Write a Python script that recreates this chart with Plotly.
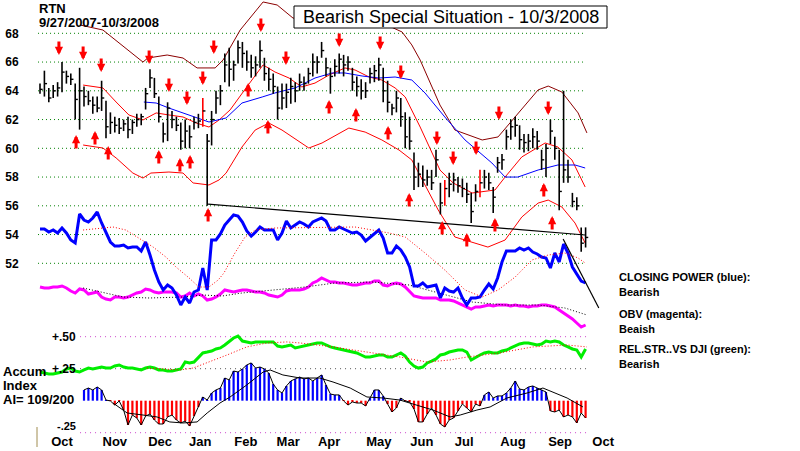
import plotly.graph_objects as go

FONT = "Liberation Sans, Arial, sans-serif"

# ---------------- data (bar index 0..124, ~2 trading days per bar) ----------------
high = [64.5,65.4,64.2,64.4,64.6,66.0,65.4,65.2,64.5,65.6,
        64.3,64.0,63.6,63.6,64.7,63.3,62.5,62.2,62.1,62.0,
        62.2,62.0,62.4,62.4,64.2,65.5,64.9,63.6,61.8,63.2,
        62.6,62.2,61.8,62.0,61.6,62.2,62.4,63.5,61.0,62.6,
        64.0,64.4,66.6,67.0,66.1,67.5,67.4,66.8,66.5,66.4,
        67.5,66.3,65.6,65.2,64.3,64.5,64.5,64.9,64.6,65.2,
        65.0,65.6,66.6,66.4,67.4,66.3,65.6,66.2,66.6,66.5,
        66.4,65.6,65.0,64.8,64.6,65.6,65.8,66.3,65.6,64.7,
        63.1,64.0,63.5,62.5,62.2,59.7,59.0,58.8,58.5,58.5,
        59.9,57.6,57.8,58.3,58.3,58.0,57.9,57.6,56.9,57.5,
        58.5,58.5,58.3,57.3,59.4,59.6,61.3,62.0,62.2,61.6,
        61.0,61.0,61.4,61.2,59.9,60.3,62.0,60.8,59.9,64.0,
        59.2,56.9,56.6,54.5,54.5]
low = [63.8,63.6,63.2,63.5,63.6,63.9,64.5,64.4,62.0,61.3,
       62.9,63.0,62.4,62.5,62.6,60.7,61.0,61.1,61.0,61.2,
       60.7,61.0,61.5,61.6,62.7,64.2,63.5,61.8,60.4,60.5,
       61.4,61.2,59.9,60.0,60.0,61.3,61.4,61.5,56.0,60.2,
       62.4,63.0,64.6,64.3,64.7,65.9,65.6,65.4,64.9,65.0,
       65.6,64.7,64.0,63.8,62.0,62.7,62.8,63.1,63.2,64.0,
       64.0,64.5,65.0,65.2,66.3,65.0,63.8,65.0,65.2,65.0,
       65.4,64.0,63.6,63.4,63.5,64.5,64.6,64.7,63.2,62.5,
       62.3,62.5,61.5,60.0,59.9,57.1,57.3,57.3,57.4,57.1,
       58.0,55.4,56.0,56.6,57.0,56.9,56.6,56.2,54.8,56.3,
       56.6,57.2,57.1,55.5,58.3,58.5,59.9,60.6,60.8,59.9,
       59.7,59.8,60.0,59.9,58.5,58.0,60.3,59.2,55.7,57.6,
       57.6,55.9,55.7,52.8,53.1]
close = [64.1,64.5,63.5,64.0,64.2,65.3,65.0,64.8,63.4,64.0,
         63.6,63.3,63.0,62.8,63.5,61.5,61.8,61.6,61.4,61.7,
         61.3,61.8,62.0,62.2,63.8,64.9,63.8,62.2,61.0,62.8,
         62.0,61.6,60.5,61.2,60.8,61.8,61.9,62.6,60.5,62.0,
         63.5,64.0,65.8,65.5,65.8,67.0,66.6,66.0,65.6,65.8,
         66.8,65.2,64.8,64.3,62.8,63.5,63.9,64.3,64.0,64.6,
         64.5,65.2,66.0,66.0,66.8,65.6,65.0,65.7,66.2,65.8,
         66.0,64.6,64.3,64.0,64.0,65.2,65.4,65.8,64.0,63.2,
         62.8,63.5,62.2,60.8,60.5,58.0,58.2,57.8,58.0,57.6,
         59.2,56.2,57.2,57.5,57.8,57.4,57.2,56.8,55.6,57.0,
         57.6,58.0,57.6,56.6,59.0,59.2,60.8,61.5,61.6,60.6,
         60.4,60.5,60.8,60.5,59.2,60.0,61.2,60.0,57.0,58.5,
         58.0,56.3,56.0,53.4,53.8]
red_bars = [37, 92, 100]

# Bollinger bands and 50-day MA (bar index, price)
upper_x = [9.1,14.3,23.4,24.5,28.9,32.5,35.7,39.8,41.6,45.5,50.7,53.9,57.5,63.6,70.5,77.3,82.3,84.5,86.4,90.9,94.3,100.5,104.1,108.0,113.2,115.5,118.6,122.3,124.3]
upper_y = [68.58,68.23,66.00,66.28,66.49,66.28,65.59,65.59,66.14,68.23,70.18,69.97,69.06,68.79,68.93,68.79,68.09,67.19,66.14,63.01,61.27,60.58,60.79,62.18,64.06,64.33,63.92,62.46,61.07]
mid_x = [9.8,14.3,17.3,20.2,23.4,24.8,26.4,29.3,32.5,35.5,38.4,40.7,43.2,47.0,50.7,53.4,56.6,59.5,62.5,65.7,69.3,71.6,74.8,77.7,80.7,83.0,86.4,90.9,93.9,98.2,103.4,105.7,109.5,114.8,117.7,120.9,123.9]
mid_y = [64.40,64.20,63.22,62.32,61.97,62.18,62.46,62.32,62.18,61.76,61.48,61.97,62.67,64.27,65.80,65.31,64.89,64.27,64.54,65.10,65.59,65.45,64.96,64.75,64.20,63.57,61.48,58.49,57.59,56.89,57.10,58.00,59.40,60.37,60.09,59.19,57.31]
lowb_x = [9.8,14.3,17.3,21.1,23.4,25.2,29.3,32.5,34.8,38.4,40.7,42.3,45.9,48.9,52.0,55.0,61.1,64.1,70.2,73.9,77.7,81.6,84.5,90.5,94.3,101.8,105.7,109.5,113.2,115.5,118.6,121.6,123.9]
lowb_y = [60.23,60.02,59.33,58.28,57.93,58.28,58.35,58.28,57.59,57.45,57.80,58.28,60.09,61.27,61.76,61.27,60.02,60.37,61.41,61.13,60.58,59.88,59.19,55.71,53.83,53.13,53.62,55.22,56.19,56.40,55.92,54.80,53.41]
ma_x = [23.6,26.4,29.3,32.5,35.5,38.4,42.3,45.9,50.5,53.4,58.0,62.5,66.4,69.3,73.2,77.0,80.7,84.5,87.5,92.0,96.6,102.7,105.7,108.6,113.2,117.7,121.6,123.9]
ma_y = [63.22,63.15,62.80,62.46,62.11,61.83,62.11,63.15,63.57,63.85,64.20,64.89,65.24,65.24,65.03,64.89,64.96,64.75,63.85,62.18,60.58,58.98,58.00,58.00,58.49,58.84,58.84,58.63]
trend_x = [38.2, 123.9]
trend_y = [56.12, 53.97]

# Closing power and OBV (arbitrary indicator units)
cp = [20.6,20.6,20.3,20.5,20.2,20.7,20.2,19.5,19.2,22.1,
      21.5,21.3,21.7,22.3,21.2,20.2,19.3,18.9,18.9,19.0,
      18.7,18.8,18.8,18.4,19.3,18.0,16.5,15.3,14.5,15.0,
      14.7,14.0,13.0,13.8,13.2,14.3,14.5,16.7,14.5,19.5,
      19.5,20.1,21.0,21.5,22.0,21.9,21.3,20.4,19.9,20.3,
      20.8,20.5,20.5,20.5,19.5,20.2,21.4,20.7,21.0,21.3,
      21.1,20.8,21.3,21.5,21.7,21.4,20.5,20.5,20.8,20.6,
      20.4,20.2,20.3,20.0,19.4,19.8,20.2,20.5,19.7,18.2,
      18.2,18.9,18.5,17.8,16.8,14.9,14.9,15.2,14.8,14.9,
      15.0,13.7,14.7,14.4,14.3,14.7,13.7,13.0,13.7,13.7,
      13.8,14.5,15.1,14.6,15.7,17.3,18.4,18.4,18.4,18.7,
      18.5,18.7,18.3,18.1,17.8,17.7,16.7,18.2,17.3,19.1,
      18.2,16.8,16.1,15.4,15.2]
cpma_x = [9.8,16.6,19.5,22.5,25.7,28.6,30.9,33.9,36.1,38.4,40.5,41.8,44.3,46.6,48.9,53.4,64.1,71.6,75.5,79.3,83.0,87.5,92.0,96.6,100.5,104.1,108.0,111.8,115.5,119.3,122.3,123.9]
cpma_y = [20.5,20.8,20.5,19.7,18.8,17.8,16.8,15.7,14.8,14.8,15.5,16.2,18.2,19.8,20.5,20.7,20.8,20.8,20.5,20.2,19.8,18.2,16.5,14.5,13.8,14.5,15.8,17.5,18.0,18.2,17.7,17.2]
cptrend_x = [118.9, 127.0]
cptrend_y = [19.6, 12.7]
obv = [14.8,14.7,14.7,14.8,14.8,14.9,14.7,14.4,14.2,14.6,
       14.5,14.1,14.2,14.3,13.8,13.6,13.5,13.8,13.8,13.7,
       13.8,14.0,14.2,14.3,14.6,14.5,14.3,14.2,14.3,14.3,
       14.3,14.2,13.8,13.9,14.2,13.9,14.1,13.9,13.5,13.6,
       13.8,14.1,14.5,14.4,14.3,14.4,14.5,14.5,14.4,14.3,
       14.3,14.2,14.0,13.9,13.8,14.0,14.4,14.5,14.5,14.5,
       14.6,14.8,15.2,15.4,15.7,15.5,15.3,15.3,15.2,15.2,
       15.1,15.0,15.0,15.1,15.2,15.2,15.4,15.4,15.0,14.9,
       15.1,15.2,15.1,14.8,14.3,13.9,13.8,13.7,13.7,13.7,
       13.7,13.5,13.5,13.5,13.4,13.2,13.0,12.8,12.6,12.8,
       12.8,12.9,13.0,12.9,13.0,13.0,13.0,12.9,13.0,12.9,
       12.9,12.8,12.9,12.9,13.0,13.0,12.9,12.8,12.5,12.2,
       11.9,11.6,11.2,10.8,11.0]
obvma_x = [9.8,18.9,24.8,32.5,37.0,41.4,45.9,52.7,60.2,67.0,75.5,83.9,90.5,98.2,105.7,113.2,119.3,124.3]
obvma_y = [14.7,13.8,13.7,13.8,14.0,13.9,14.2,14.5,14.8,15.2,15.3,15.0,14.2,13.3,13.0,13.0,12.7,12.0]

# Relative strength vs DJI and accumulation index (lower scale)
rs = [0.224,0.216,0.209,0.209,0.216,0.224,0.248,0.255,0.232,0.224,
      0.240,0.255,0.248,0.255,0.263,0.255,0.255,0.271,0.279,0.263,
      0.255,0.255,0.248,0.240,0.255,0.263,0.255,0.240,0.240,0.232,
      0.232,0.240,0.248,0.302,0.295,0.302,0.334,0.373,0.380,0.388,
      0.404,0.412,0.435,0.466,0.490,0.505,0.466,0.459,0.451,0.459,
      0.459,0.459,0.459,0.459,0.427,0.420,0.427,0.435,0.412,0.420,
      0.427,0.435,0.443,0.451,0.451,0.435,0.420,0.412,0.404,0.396,
      0.388,0.380,0.373,0.357,0.341,0.341,0.349,0.357,0.357,0.341,
      0.341,0.357,0.373,0.349,0.302,0.271,0.255,0.263,0.295,0.310,
      0.326,0.357,0.365,0.380,0.388,0.396,0.396,0.380,0.318,0.341,
      0.357,0.373,0.380,0.373,0.373,0.388,0.396,0.412,0.427,0.443,
      0.451,0.451,0.443,0.435,0.443,0.466,0.459,0.466,0.459,0.435,
      0.420,0.404,0.396,0.341,0.404]
rsma_x = [24.3,31.8,34.8,38.0,42.5,47.0,51.6,56.1,59.1,66.6,74.3,81.8,88.0,93.2,97.0,104.5,112.0,119.8,124.3]
rsma_y = [0.255,0.240,0.255,0.295,0.357,0.420,0.451,0.459,0.451,0.420,0.380,0.341,0.302,0.318,0.341,0.373,0.420,0.435,0.420]
ai = [None]*10 + [
    0.084,0.099,0.084,0.107,0.084,0.005,-0.002,-0.034,-0.002,-0.073,
    -0.190,-0.112,-0.135,-0.190,-0.120,-0.104,-0.151,-0.182,-0.182,-0.127,
    -0.112,-0.151,-0.174,-0.159,-0.198,-0.120,-0.049,0.029,0.005,0.060,
    0.084,0.099,0.177,0.162,0.232,0.224,0.248,0.279,0.295,0.255,
    0.263,0.248,0.216,0.130,0.084,0.060,0.115,0.154,0.170,0.185,
    0.170,0.177,0.154,0.177,0.201,0.123,0.052,0.045,0.045,-0.002,
    -0.034,-0.010,-0.018,-0.018,-0.041,0.021,0.084,0.084,0.037,-0.026,
    -0.088,-0.057,0.021,-0.002,-0.010,-0.065,-0.166,-0.166,-0.104,-0.057,
    -0.112,-0.182,-0.205,-0.151,-0.135,-0.080,-0.026,-0.057,-0.088,-0.026,
    -0.041,0.045,0.068,0.021,0.037,0.037,0.060,0.099,0.154,0.091,
    0.084,0.107,0.115,0.099,0.084,0.068,-0.080,-0.088,-0.073,-0.127,
    -0.112,-0.127,-0.174,-0.096,-0.135]
aima_x = [16.6,19.8,23.4,26.6,29.5,32.5,35.7,38.0,40.9,43.2,47.0,50.7,52.3,55.2,59.1,63.6,66.6,70.5,74.3,78.0,81.8,85.7,89.3,93.2,95.5,99.3,102.3,106.1,110.7,114.3,116.6,119.8,123.4]
aima_y = [-0.018,-0.096,-0.112,-0.127,-0.166,-0.174,-0.166,-0.096,-0.018,0.029,0.123,0.224,0.240,0.201,0.177,0.177,0.146,0.099,0.029,0.021,0.005,-0.034,-0.073,-0.127,-0.112,-0.073,-0.049,0.021,0.060,0.099,0.068,0.021,-0.049]

# Buy / sell arrows (bar index, price at arrow tip)
down_x = [4.3,9.8,13.9,24.8,29.3,33.4,37.0,39.5,50.2,55.9,68.0,77.3,82.0,90.2,93.9,99.1,104.3,115.5]
down_y = [66.49,66.14,65.31,65.86,63.92,63.01,64.40,66.56,68.09,65.80,67.05,66.84,64.82,60.23,58.84,59.53,61.97,62.32]
up_x = [8.2,12.5,15.5,27.0,31.8,34.1,38.2,47.3,51.8,65.7,71.8,79.1,83.9,91.4,97.0,103.4,114.5,116.4]
up_y = [60.93,61.20,60.16,59.88,59.32,59.53,55.85,64.54,61.97,63.36,62.80,61.55,56.89,54.94,54.11,55.15,57.59,55.29]

# Axis ticks
month_pos = [5.0,17.0,27.3,36.4,46.8,56.4,65.7,77.0,86.8,96.4,107.5,118.2,128.0]
month_labels = ["Oct","Nov","Dec","Jan","Feb","Mar","Apr","May","Jun","Jul","Aug","Sep","Oct"]
price_ticks = [52,54,56,58,60,62,64,66,68]
lower_levels = [0.5, 0.25, -0.25]
lower_labels = ["+.50", "+.25", "-.25"]

# ---------------- figure ----------------
N = len(close)
idx = list(range(N))
W, H = 800, 451
ML, MR, MT, MB = 38, 190, 0, 16
PW, PH = W - ML - MR, H - MT - MB

def fx(px):
    return (px - ML) / PW

def fy(py):
    return (H - MB - py) / PH

fig = go.Figure()

# bands
fig.add_trace(go.Scatter(x=upper_x, y=upper_y, mode="lines", line=dict(color="#8B0000", width=1)))
fig.add_trace(go.Scatter(x=mid_x, y=mid_y, mode="lines", line=dict(color="#FF0000", width=1)))
fig.add_trace(go.Scatter(x=lowb_x, y=lowb_y, mode="lines", line=dict(color="#FF0000", width=1)))
fig.add_trace(go.Scatter(x=ma_x, y=ma_y, mode="lines", line=dict(color="#0000FF", width=1)))

# price bars
bx, by, rx, ry, tx, ty = [], [], [], [], [], []
for i in idx:
    if i in red_bars:
        rx += [i, i, None]; ry += [low[i], high[i], None]
    else:
        bx += [i, i, None]; by += [low[i], high[i], None]
    tx += [i, i + 0.6, None]; ty += [close[i], close[i], None]
fig.add_trace(go.Scatter(x=bx, y=by, mode="lines", line=dict(color="black", width=1.6)))
fig.add_trace(go.Scatter(x=rx, y=ry, mode="lines", line=dict(color="#FF0000", width=1.6)))
fig.add_trace(go.Scatter(x=tx, y=ty, mode="lines", line=dict(color="black", width=1.4)))
fig.add_trace(go.Scatter(x=trend_x, y=trend_y, mode="lines", line=dict(color="black", width=1.2)))

# lower panel: accumulation index and relative strength
ai_colors = ["#0000FF" if (v is not None and v >= 0) else "#FF0000" for v in ai]
fig.add_trace(go.Bar(x=idx, y=ai, yaxis="y2", width=0.5, marker=dict(color=ai_colors, line=dict(width=0))))
fig.add_trace(go.Scatter(x=idx, y=ai, yaxis="y2", mode="lines", line=dict(color="black", width=1)))
fig.add_trace(go.Scatter(x=aima_x, y=aima_y, yaxis="y2", mode="lines", line=dict(color="black", width=1)))
fig.add_trace(go.Scatter(x=idx, y=rs, yaxis="y2", mode="lines", line=dict(color="#00EE00", width=3)))
fig.add_trace(go.Scatter(x=rsma_x, y=rsma_y, yaxis="y2", mode="lines", line=dict(color="#FF0000", width=1, dash="1px,2px")))

# closing power / OBV
fig.add_trace(go.Scatter(x=idx, y=obv, yaxis="y3", mode="lines", line=dict(color="#FF00FF", width=3)))
fig.add_trace(go.Scatter(x=obvma_x, y=obvma_y, yaxis="y3", mode="lines", line=dict(color="black", width=1, dash="1px,2px")))
fig.add_trace(go.Scatter(x=idx, y=cp, yaxis="y3", mode="lines", line=dict(color="#0000FF", width=3)))
fig.add_trace(go.Scatter(x=cpma_x, y=cpma_y, yaxis="y3", mode="lines", line=dict(color="#FF0000", width=1, dash="1px,2px")))
fig.add_trace(go.Scatter(x=cptrend_x, y=cptrend_y, yaxis="y3", mode="lines", line=dict(color="black", width=1.2)))

# grid lines
for lv in price_ticks:
    fig.add_shape(type="line", xref="x", yref="y", x0=-0.45, x1=123.9, y0=lv, y1=lv,
                  line=dict(color="#008000", width=1, dash="1px,3px"), layer="below")
lower_colors = ["#CC44CC", "#555555", "#CC44CC"]
for lv, c in zip(lower_levels, lower_colors):
    fig.add_shape(type="line", xref="x", yref="y2", x0=9.1, x1=125.0, y0=lv, y1=lv,
                  line=dict(color=c, width=1, dash="1px,4px"), layer="below")

annotations = []
for x, y in zip(down_x, down_y):
    annotations.append(dict(x=x, y=y, xref="x", yref="y", text="", showarrow=True, ax=0, ay=-15,
                            arrowhead=2, arrowsize=0.55, arrowwidth=3, arrowcolor="#FF0000"))
for x, y in zip(up_x, up_y):
    annotations.append(dict(x=x, y=y, xref="x", yref="y", text="", showarrow=True, ax=0, ay=15,
                            arrowhead=2, arrowsize=0.55, arrowwidth=3, arrowcolor="#FF0000"))

def txt(s, x, y, size=12, bold=True, xanchor="left"):
    annotations.append(dict(text=s, x=fx(x), y=fy(y), xref="paper", yref="paper", showarrow=False,
                            xanchor=xanchor, yanchor="middle",
                            font=dict(family=FONT, size=size, color="black", weight="bold" if bold else "normal")))

txt("RTN", 37, 8, 13)
txt("9/27/2007-10/3/2008", 37, 22, 13)
txt("Bearish Special Situation - 10/3/2008", 451, 17, 18, bold=False, xanchor="center")
txt("CLOSING POWER (blue):", 617, 277, 11)
txt("Bearish", 617, 292, 11)
txt("OBV (magenta):", 617, 314, 11)
txt("Beaish", 617, 329, 11)
txt("REL.STR..VS DJI (green):", 617, 349, 11)
txt("Bearish", 617, 364, 11)
txt("Accum", 1, 371, 13)
txt("Index", 1, 385, 13)
txt("AI= 109/200", 1, 399, 13)
for lab, py, sz in zip(lower_labels, [337, 369, 426], [12, 12, 11]):
    txt(lab, 78, py, sz, xanchor="right")

# title box
fig.add_shape(type="rect", xref="paper", yref="paper", x0=fx(294), x1=fx(607), y0=fy(28), y1=fy(6),
              line=dict(color="black", width=1), fillcolor="white", layer="above")
fig.add_shape(type="line", xref="paper", yref="paper", x0=fx(37), x1=fx(37), y0=fy(447), y1=fy(427),
              line=dict(color="#A08C50", width=1))

fig.update_layout(
    width=W, height=H, margin=dict(l=ML, r=MR, t=MT, b=MB),
    paper_bgcolor="white", plot_bgcolor="white", showlegend=False,
    annotations=annotations,
    xaxis=dict(range=[-0.4545, 129.545], tickmode="array", tickvals=month_pos, ticktext=month_labels,
               showgrid=False, zeroline=False, showline=False, ticks="",
               tickfont=dict(family=FONT, size=13, color="black", weight="bold")),
    yaxis=dict(range=[40.057, 70.317], tickmode="array", tickvals=price_ticks,
               ticktext=[str(v) for v in price_ticks], showgrid=False, zeroline=False, showline=False,
               ticks="outside", ticklen=16, tickcolor="rgba(0,0,0,0)",
               tickfont=dict(family=FONT, size=12, color="black", weight="bold")),
    yaxis2=dict(range=[-0.268, 3.130], overlaying="y", visible=False),
    yaxis3=dict(range=[0, 43.5], overlaying="y", visible=False),
)
try:
    fig.update_xaxes(ticklabelstandoff=-3)
except Exception:
    pass

fig.write_html("out.html")
